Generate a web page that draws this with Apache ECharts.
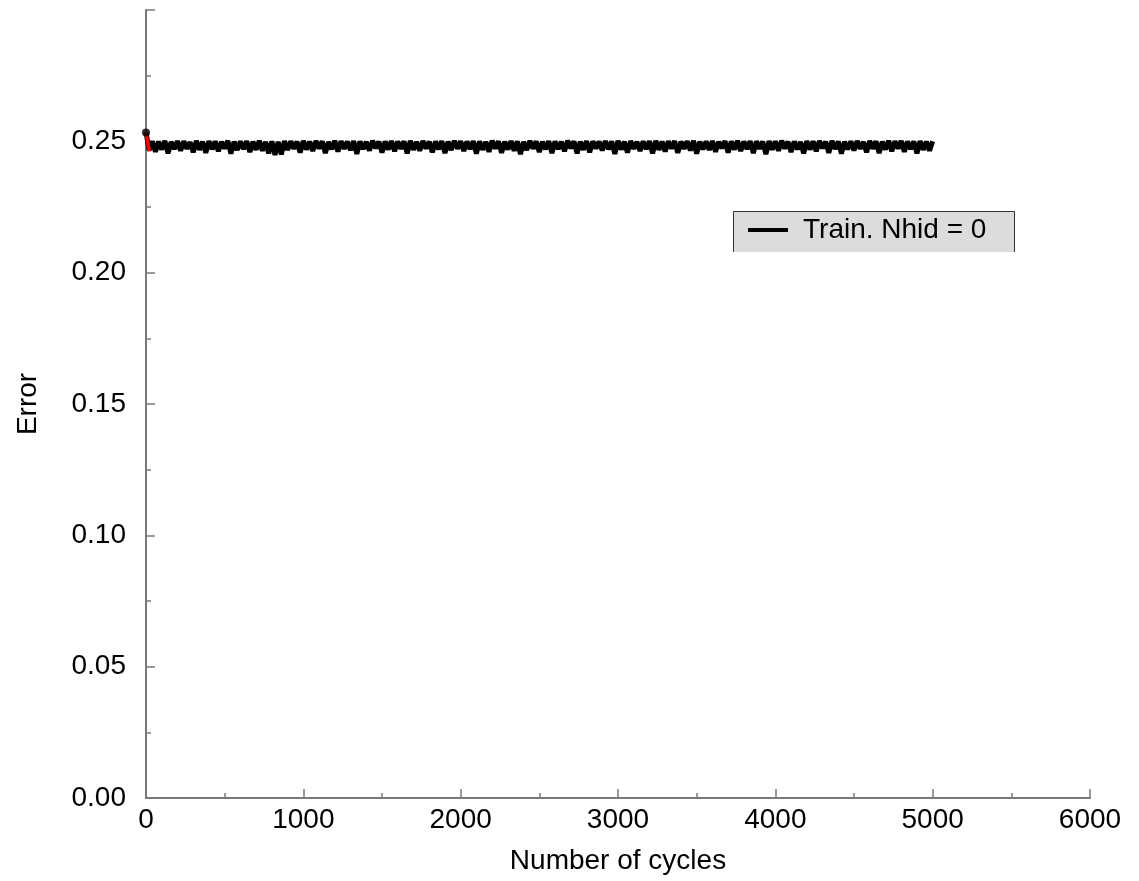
<!DOCTYPE html>
<html>
<head>
<meta charset="utf-8">
<script src="https://cdn.jsdelivr.net/npm/echarts@6/dist/echarts.min.js"></script>
<style>
  html, body { margin: 0; padding: 0; background: #fff; }
  #chart { width: 1139px; height: 881px; }
</style>
</head>
<body>
<div id="chart"></div>
<script>
(function () {
  var FONT = '"Liberation Sans", Arial, sans-serif';
  var AXIS = '#7a7a7a';

  // training error sampled every 20 cycles (0..5000)
  var STEP = 20;
  var TRAIN_ERR = [
    0.2534,
    0.2466, 0.2500, 0.2460, 0.2499, 0.2469, 0.2502, 0.2454, 0.2498, 0.2471, 0.2501,
    0.2464, 0.2500, 0.2472, 0.2497, 0.2458, 0.2502, 0.2468, 0.2499, 0.2456, 0.2501,
    0.2470, 0.2500, 0.2462, 0.2498, 0.2473, 0.2502, 0.2453, 0.2499, 0.2467, 0.2500,
    0.2471, 0.2501, 0.2459, 0.2499, 0.2468, 0.2502, 0.2464, 0.2498, 0.2454, 0.2500,
    0.2448, 0.2498, 0.2450, 0.2501, 0.2467, 0.2500, 0.2472, 0.2499, 0.2457, 0.2502,
    0.2469, 0.2499, 0.2463, 0.2501, 0.2473, 0.2500, 0.2455, 0.2498, 0.2470, 0.2502,
    0.2461, 0.2500, 0.2472, 0.2499, 0.2466, 0.2501, 0.2452, 0.2500, 0.2471, 0.2498,
    0.2465, 0.2502, 0.2474, 0.2499, 0.2457, 0.2500, 0.2469, 0.2501, 0.2462, 0.2499,
    0.2472, 0.2500, 0.2454, 0.2502, 0.2468, 0.2498, 0.2464, 0.2501, 0.2473, 0.2499,
    0.2458, 0.2500, 0.2470, 0.2501, 0.2455, 0.2499, 0.2467, 0.2502, 0.2472, 0.2500,
    0.2463, 0.2499, 0.2471, 0.2501, 0.2453, 0.2500, 0.2468, 0.2498, 0.2460, 0.2502,
    0.2473, 0.2500, 0.2456, 0.2499, 0.2469, 0.2501, 0.2464, 0.2500, 0.2451, 0.2498,
    0.2467, 0.2502, 0.2472, 0.2500, 0.2459, 0.2499, 0.2470, 0.2501, 0.2455, 0.2500,
    0.2471, 0.2498, 0.2462, 0.2502, 0.2474, 0.2500, 0.2454, 0.2499, 0.2468, 0.2501,
    0.2458, 0.2500, 0.2473, 0.2499, 0.2465, 0.2501, 0.2470, 0.2500, 0.2452, 0.2502,
    0.2469, 0.2499, 0.2457, 0.2501, 0.2472, 0.2498, 0.2463, 0.2500, 0.2471, 0.2501,
    0.2454, 0.2502, 0.2468, 0.2499, 0.2461, 0.2500, 0.2473, 0.2501, 0.2456, 0.2499,
    0.2472, 0.2500, 0.2465, 0.2502, 0.2453, 0.2499, 0.2470, 0.2500, 0.2467, 0.2501,
    0.2460, 0.2498, 0.2474, 0.2501, 0.2457, 0.2500, 0.2469, 0.2502, 0.2463, 0.2499,
    0.2471, 0.2501, 0.2455, 0.2500, 0.2472, 0.2499, 0.2451, 0.2501, 0.2468, 0.2500,
    0.2464, 0.2502, 0.2473, 0.2499, 0.2459, 0.2500, 0.2470, 0.2498, 0.2454, 0.2501,
    0.2469, 0.2500, 0.2462, 0.2501, 0.2474, 0.2499, 0.2456, 0.2502, 0.2471, 0.2500,
    0.2453, 0.2499, 0.2470, 0.2500, 0.2465, 0.2501, 0.2472, 0.2498, 0.2458, 0.2502,
    0.2472, 0.2500, 0.2455, 0.2499, 0.2469, 0.2502, 0.2462, 0.2500, 0.2473, 0.2501,
    0.2460, 0.2499, 0.2471, 0.2500, 0.2454, 0.2501, 0.2468, 0.2499, 0.2464, 0.2500
  ];

  // short red segment at the very start
  var START_CYCLES = [0, 8, 15, 22];
  var START_ERR = [0.2532, 0.2506, 0.2482, 0.2462];

  var LEGEND_NAME = 'Train. Nhid = 0';

  function pairs(xs, ys) {
    return ys.map(function (v, i) { return [xs[i], v]; });
  }

  var trainCycles = TRAIN_ERR.map(function (_v, i) { return i * STEP; });

  var chart = echarts.init(document.getElementById('chart'), null, { renderer: 'canvas' });

  chart.setOption({
    backgroundColor: '#fff',
    animation: false,
    textStyle: { fontFamily: FONT, color: '#000' },
    grid: { left: 146, right: 49, top: 10, bottom: 83, containLabel: false },
    xAxis: {
      type: 'value',
      min: 0,
      max: 6000,
      interval: 1000,
      name: 'Number of cycles',
      nameLocation: 'middle',
      nameGap: 49,
      nameTextStyle: { fontFamily: FONT, fontSize: 28, color: '#000' },
      axisLine: { show: true, onZero: false, lineStyle: { color: AXIS, width: 2 } },
      axisTick: { show: true, inside: true, length: 9, lineStyle: { color: AXIS, width: 1.5 } },
      minorTick: { show: true, splitNumber: 2, length: 5, lineStyle: { color: AXIS, width: 1.5 } },
      axisLabel: {
        fontFamily: FONT,
        fontSize: 28,
        color: '#000',
        margin: 8,
        formatter: function (v) { return String(v); }
      },
      splitLine: { show: false }
    },
    yAxis: {
      type: 'value',
      min: 0,
      max: 0.30,
      interval: 0.05,
      name: 'Error',
      nameLocation: 'middle',
      nameGap: 104,
      nameRotate: 90,
      nameTextStyle: { fontFamily: FONT, fontSize: 28, color: '#000' },
      axisLine: { show: true, onZero: false, lineStyle: { color: AXIS, width: 2 } },
      axisTick: { show: true, inside: true, length: 9, lineStyle: { color: AXIS, width: 1.5 } },
      minorTick: { show: true, splitNumber: 2, length: 5, lineStyle: { color: AXIS, width: 1.5 } },
      axisLabel: {
        fontFamily: FONT,
        fontSize: 28,
        color: '#000',
        margin: 20,
        formatter: function (v) { return v > 0.29 ? '' : v.toFixed(2); }
      },
      splitLine: { show: false }
    },
    legend: {
      show: true,
      left: 748,
      top: 216,
      padding: 0,
      data: [{ name: LEGEND_NAME, icon: 'rect' }],
      itemWidth: 40,
      itemHeight: 4,
      itemGap: 0,
      textStyle: { fontFamily: FONT, fontSize: 28, color: '#000', padding: [0, 0, 0, 10] },
      selectedMode: false
    },
    graphic: [
      {
        type: 'rect',
        z: -1,
        shape: { x: 733, y: 211, width: 282, height: 41 },
        style: { fill: '#dcdcdc' },
        silent: true
      },
      {
        type: 'polyline',
        z: 0,
        shape: { points: [[733.5, 252], [733.5, 211.5], [1014.5, 211.5], [1014.5, 252]] },
        style: { stroke: '#333', lineWidth: 1, fill: null },
        silent: true
      }
    ],
    series: [
      {
        name: LEGEND_NAME,
        type: 'line',
        data: pairs(trainCycles, TRAIN_ERR),
        showSymbol: false,
        symbol: 'none',
        itemStyle: { color: '#000' },
        lineStyle: { color: '#000', width: 5 },
        z: 2
      },
      {
        name: 'start',
        type: 'line',
        data: pairs(START_CYCLES, START_ERR),
        showSymbol: false,
        symbol: 'none',
        lineStyle: { color: '#ff0000', width: 3.5 },
        z: 3
      },
      {
        name: 'first',
        type: 'scatter',
        data: [[START_CYCLES[0], TRAIN_ERR[0]]],
        symbol: 'circle',
        symbolSize: 8,
        itemStyle: { color: '#000' },
        z: 4
      }
    ]
  });
})();
</script>
</body>
</html>
